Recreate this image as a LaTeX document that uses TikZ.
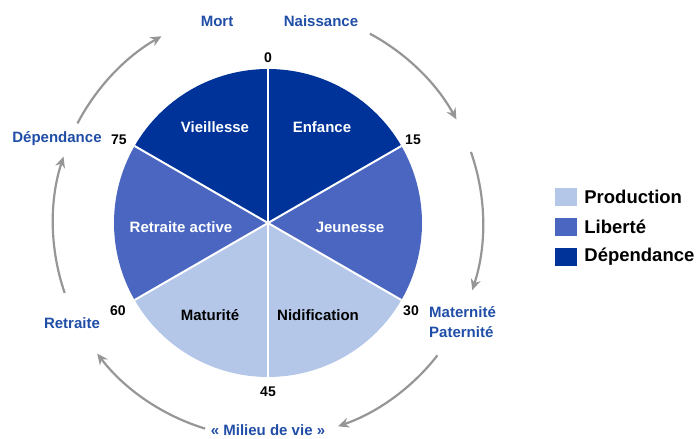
\documentclass[tikz,border=0pt]{standalone}
\usepackage{fontspec}
\setmainfont{Liberation Sans}
\usetikzlibrary{arrows.meta,positioning}
\definecolor{lcdark}{RGB}{0,51,153}
\definecolor{lcmid}{RGB}{74,102,192}
\definecolor{lclight}{RGB}{180,199,232}
\definecolor{lcblue}{RGB}{32,78,166}
\definecolor{lcgrey}{RGB}{150,150,150}

\begin{document}
\begin{tikzpicture}[x=1pt,y=1pt,
  agelab/.style={font=\fontsize{14}{16}\selectfont\bfseries,inner sep=0pt},
  slicelab/.style={font=\fontsize{15}{17}\selectfont\bfseries,inner sep=0pt},
  phaselab/.style={font=\fontsize{15}{20}\selectfont\bfseries,text=lcblue,inner sep=0pt},
  cyclearrow/.style={draw=lcgrey,line width=2.2pt,-{Stealth[length=11pt,width=10pt]}},
  legbox/.style={minimum width=22pt,minimum height=18pt,inner sep=0pt},
  legtext/.style={font=\fontsize{18.5}{21}\selectfont\bfseries,inner sep=0pt}]
  \useasboundingbox (0,0) rectangle (699,439);
  % Pie of the life stages
  \begin{scope}[shift={(268,216)}]
    \foreach \a/\b/\col in {90/30/lcdark,30/-30/lcmid,-30/-90/lclight,-90/-150/lclight,-150/-210/lcmid,150/90/lcdark} {
      \fill[\col] (0,0) -- (\a:154) arc[start angle=\a,end angle=\b,radius=154pt] -- cycle;
    }
    \foreach \a in {90,30,-30,-90,-150,150}
      \draw[white,line width=2pt] (0,0) -- (\a:154);
    % Cycle arrows
    \foreach \s/\e/\n in {61.7/28.8/1,19.3/-18.2/2,-38/-71/3,-107/-142.6/4,199/162/5,152.4/119.7/6} {
      \coordinate (arc\n) at (\s:215);
      \draw[cyclearrow] (arc\n) arc[start angle=\s,end angle=\e,radius=215pt];
    }
  \end{scope}
  % Stage names
  \node[slicelab,text=white] (vieillesse) at (215,312) {Vieillesse};
  \node[slicelab,text=white] (enfance) at (322,312) {Enfance};
  \node[slicelab,text=white] (retraiteact) at (181,212) {Retraite active};
  \node[slicelab,text=white] (jeunesse) at (350,212) {Jeunesse};
  \node[slicelab] (maturite) at (210,124) {Maturité};
  \node[slicelab] (nidification) at (318,124) {Nidification};
  % Ages
  \node[agelab] (age0) at (268,381) {0};
  \node[agelab] (age15) at (413,299) {15};
  \node[agelab] (age30) at (411,128) {30};
  \node[agelab] (age45) at (268,47) {45};
  \node[agelab] (age60) at (118,128) {60};
  \node[agelab] (age75) at (119,299) {75};
  % Events round the cycle
  \node[phaselab] (mort) at (217,418) {Mort};
  \node[phaselab] (naissance) at (321,418) {Naissance};
  \node[phaselab] (dependance) at (57,300) {Dépendance};
  \node[phaselab] (retraite) at (72,116) {Retraite};
  \node[phaselab,align=left,anchor=west] (parent) at (429,117) {Maternité\\Paternité};
  \node[phaselab,anchor=base] (milieu) at (268,3) {« Milieu de vie »};
  % Legend
  \node[legbox,fill=lclight] (kprod) at (566,242) {};
  \node[legbox,fill=lcmid] (klib) at (566,212) {};
  \node[legbox,fill=lcdark] (kdep) at (566,182) {};
  \node[legtext,right=7pt of kprod] {Production};
  \node[legtext,right=7pt of klib] {Liberté};
  \node[legtext,right=7pt of kdep] {Dépendance};
\end{tikzpicture}
\end{document}
